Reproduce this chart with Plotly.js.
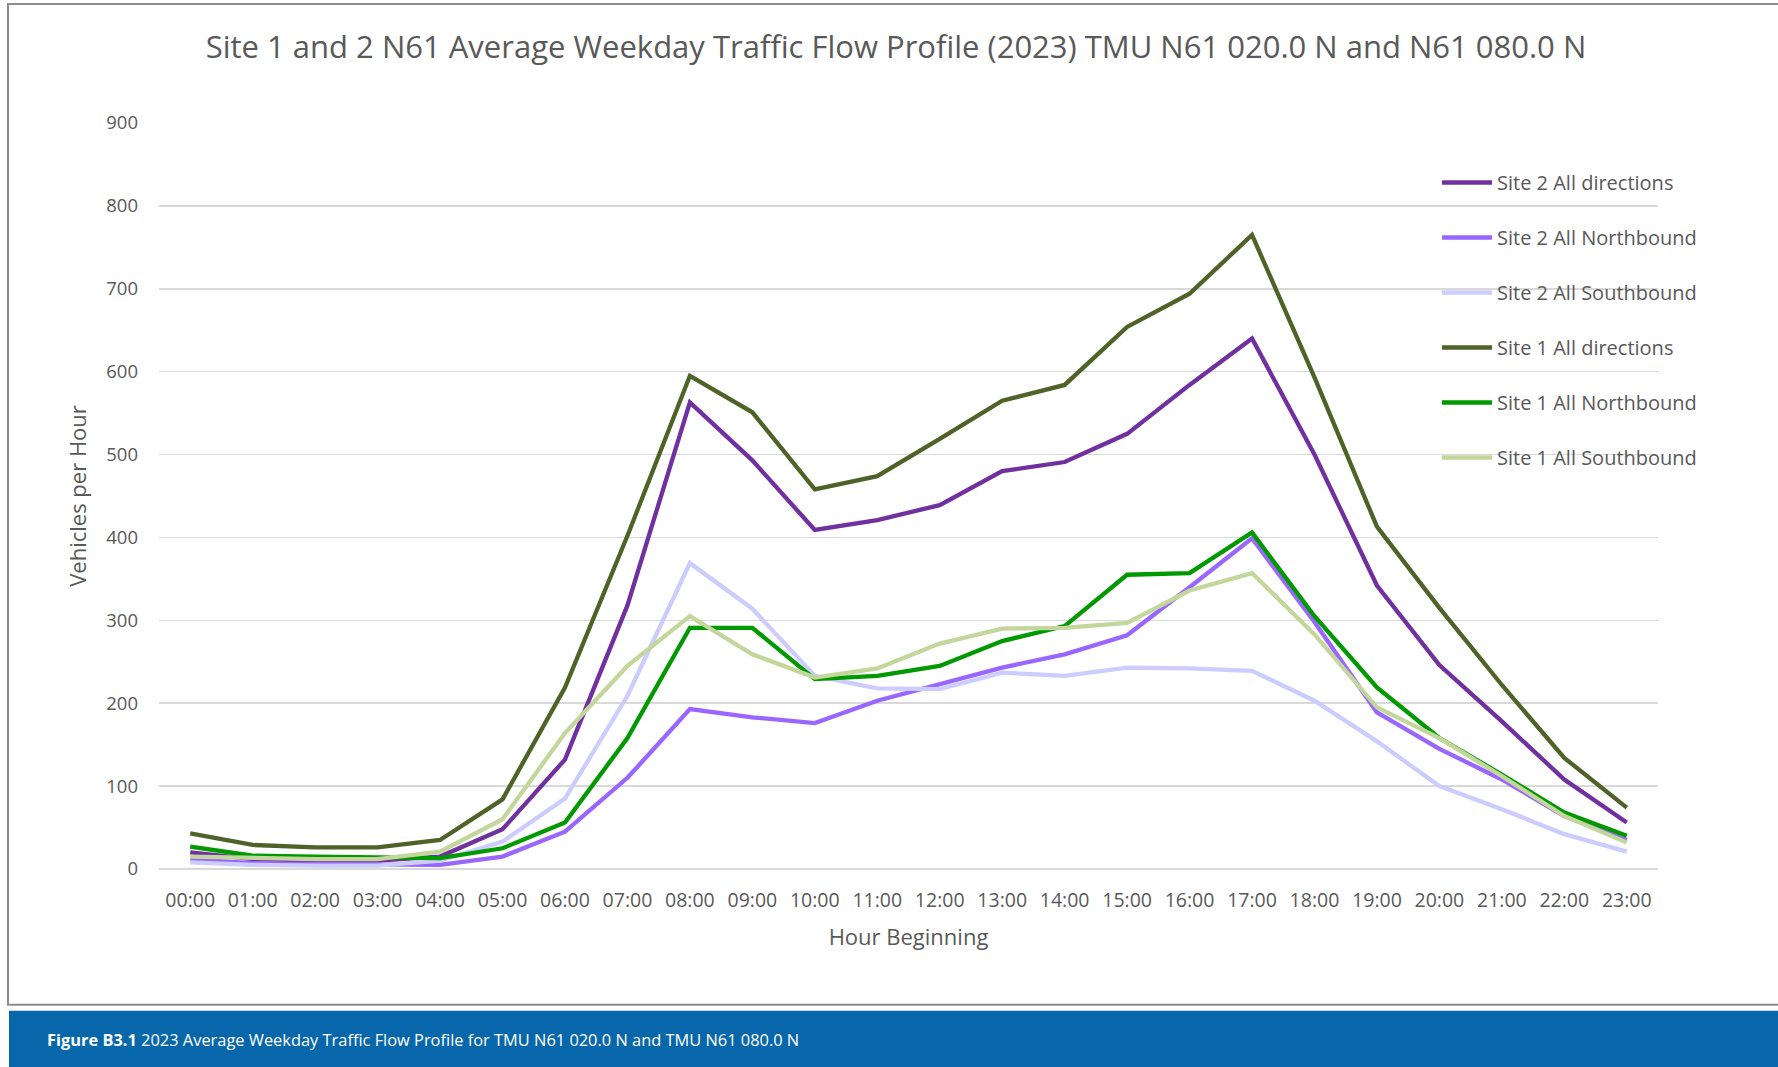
<!DOCTYPE html>
<html>
<head>
<meta charset="utf-8">
<script src="https://cdn.plot.ly/plotly-3.0.1.min.js"></script>
<style>
  html, body { margin: 0; padding: 0; background: #ffffff; }
  #chart { width: 1778px; height: 1067px; }
</style>
</head>
<body>
<div id="chart"></div>
<script>
const hours = ["00:00","01:00","02:00","03:00","04:00","05:00","06:00","07:00","08:00","09:00","10:00","11:00",
               "12:00","13:00","14:00","15:00","16:00","17:00","18:00","19:00","20:00","21:00","22:00","23:00"];

const site2All = [20,12,10,10,15,48,132,318,563,493,409,421,439,480,491,525,584,640,500,342,246,178,108,56];
const site2NB  = [12,7,6,6,5,15,45,110,193,183,176,203,223,243,259,282,340,399,298,189,145,108,64,35];
const site2SB  = [8,5,4,4,10,33,85,209,369,314,233,218,217,237,233,243,242,239,203,154,100,72,42,21];
const site1All = [43,29,26,26,35,84,219,402,595,551,458,474,519,565,584,654,694,765,593,413,315,222,134,74];
const site1NB  = [27,16,15,14,13,25,56,158,291,291,229,233,245,275,293,355,357,406,305,219,158,114,68,40];
const site1SB  = [15,13,12,12,21,60,164,245,305,259,231,242,272,290,291,297,336,357,283,195,158,112,64,32];

const seriesNames = ["Site 2 All directions","Site 2 All Northbound","Site 2 All Southbound",
                     "Site 1 All directions","Site 1 All Northbound","Site 1 All Southbound"];
const seriesValues = [site2All, site2NB, site2SB, site1All, site1NB, site1SB];
const seriesColors = ["#7030A0","#9966FF","#CCCCFF","#4F6228","#009900","#C3D69B"];

const titleText = "Site 1 and 2 N61 Average Weekday Traffic Flow Profile (2023) TMU N61 020.0 N and N61 080.0 N";
const captionText = "<b>Figure B3.1</b> 2023 Average Weekday Traffic Flow Profile for TMU N61 020.0 N and TMU N61 080.0 N";

// plot area in page pixels
const W = 1778, H = 1067;
const PL = 159, PR = 1658, PT = 123, PB = 869.3;
const px = x => (x - PL) / (PR - PL);
const py = y => (PB - y) / (PB - PT);

const traces = seriesNames.map((n, i) => ({
  type: "scatter",
  mode: "lines",
  name: n,
  x: hours,
  y: seriesValues[i],
  legendgroup: "g" + i,
  line: { color: seriesColors[i], width: 4.3 },
  hoverinfo: "x+y+name"
}));

const grey = "#595959";
const layout = {
  width: W, height: H,
  paper_bgcolor: "#ffffff",
  plot_bgcolor: "rgba(0,0,0,0)",
  margin: { l: PL, r: W - PR, t: PT, b: H - PB },
  font: { family: "Open Sans, sans-serif", color: grey },
  title: {
    text: titleText,
    font: { family: "Open Sans, sans-serif", size: 31, color: grey },
    xref: "container", yref: "container",
    x: 896 / W, xanchor: "center",
    y: 1 - 47.6 / H, yanchor: "middle"
  },
  xaxis: {
    type: "category",
    range: [-0.5, 23.5],
    showgrid: false, showline: false, zeroline: false,
    ticks: "",
    tickangle: 0,
    ticklabelstandoff: 17,
    tickfont: { size: 19.5, color: grey },
    title: { text: "Hour Beginning", font: { size: 22, color: grey }, standoff: 18 },
    fixedrange: true
  },
  yaxis: {
    range: [0, 900],
    dtick: 100,
    showgrid: true, gridcolor: "#d9d9d9", gridwidth: 1.5,
    zeroline: true, zerolinecolor: "#d9d9d9", zerolinewidth: 1.5,
    showline: false,
    ticks: "",
    ticklabelstandoff: 20,
    tickfont: { size: 18.5, color: grey },
    title: { text: "Vehicles per Hour", font: { size: 22, color: grey }, standoff: 13 },
    fixedrange: true
  },
  showlegend: true,
  legend: {
    x: px(1437), xanchor: "left",
    y: py(163), yanchor: "top",
    bgcolor: "rgba(0,0,0,0)",
    traceorder: "grouped",
    tracegroupgap: 26,
    font: { size: 20, color: grey },
    itemwidth: 50
  },
  shapes: [
    { type: "rect", xref: "paper", yref: "paper",
      x0: px(8), x1: px(1800), y0: py(1005), y1: py(4),
      line: { color: "#8c8c8c", width: 2 }, fillcolor: "rgba(0,0,0,0)", layer: "below" },
    { type: "rect", xref: "paper", yref: "paper",
      x0: px(9), x1: px(1800), y0: py(1080), y1: py(1011),
      line: { width: 0 }, fillcolor: "#0867AB", layer: "below" }
  ],
  annotations: [
    { text: captionText, xref: "paper", yref: "paper",
      x: px(45), xanchor: "left", y: py(1040), yanchor: "middle",
      showarrow: false, font: { family: "Open Sans, sans-serif", size: 16.4, color: "#ffffff" } }
  ]
};

Plotly.newPlot("chart", traces, layout, { displayModeBar: false, staticPlot: true });
</script>
</body>
</html>
